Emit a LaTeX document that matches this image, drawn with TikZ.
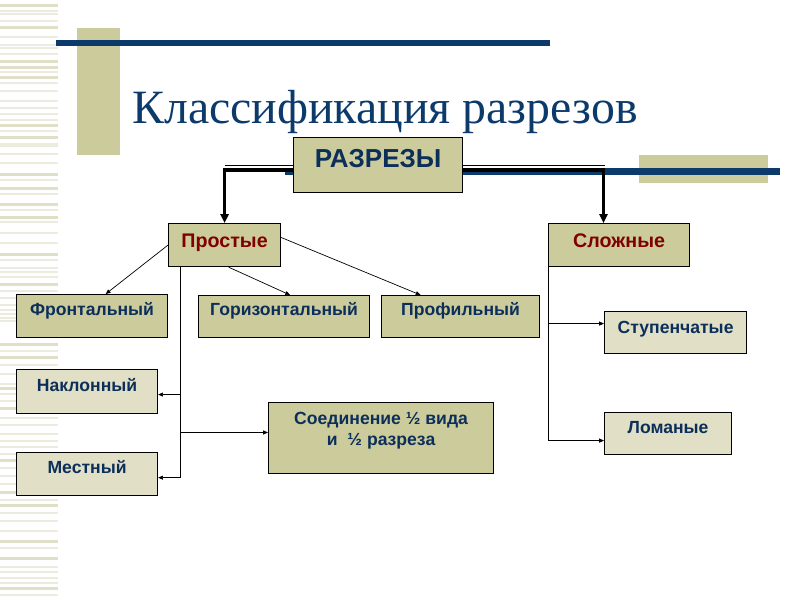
\documentclass[tikz,border=0pt]{standalone}
\usepackage{fontspec}
\setmainfont{Liberation Serif}
\setsansfont{Liberation Sans}
\usetikzlibrary{arrows.meta}
\definecolor{navy}{HTML}{0B3A6B}
\definecolor{khaki}{HTML}{CCCB9B}
\definecolor{palekhaki}{HTML}{E1DFC5}
\definecolor{stripe}{HTML}{E0E0C8}
\definecolor{stripelight}{HTML}{ECECDE}
\definecolor{darkred}{HTML}{800000}
\definecolor{boxtext}{HTML}{0C2F5A}

\begin{document}
\begin{tikzpicture}[x=0.025cm, y=-0.025cm,
  box/.style={draw=black, line width=0.8pt, fill=khaki, anchor=north west, inner sep=0pt,
    text=boxtext, font=\sffamily\bfseries\fontsize{12.5}{15}\selectfont},
  palebox/.style={box, fill=palekhaki},
  topbox/.style={box, text=darkred, font=\sffamily\bfseries\fontsize{14}{17}\selectfont},
  link/.style={line width=0.5pt, -{Triangle[length=0.12cm, width=0.1cm]}},
  bigarrow/.style={line width=2.5pt, -{Triangle[length=0.22cm, width=0.2cm]}}]
\useasboundingbox (0,0) rectangle (800,600);
\fill[white] (0,0) rectangle (800,600);
\foreach \y in {10,13,20,36,44,47,53,71,82,90,100,107,113,119,130,143,145,153,162,179,193,209,221,232,242,259,267,271,276,290,297,304,309,313,317,320,350,364,373,383,393,400,417,424,433,440,446,453,467,475,483,499,512,520,530,547,566,571,577,582,594}
  \fill[stripelight] (0,\y) rectangle (58,\y+1.5);
\foreach \y in {4,26,60,66,76,124,136,173,187,203,216,253,283,343,356,387,407,459,491,504,540,557,587}
  \fill[stripe] (0,\y) rectangle (58,\y+3);
\fill[khaki] (77,28) rectangle (120,155);
\fill[navy] (56,40) rectangle (550,46);
\fill[khaki] (639,155) rectangle (768,183);
\fill[navy] (285,168) rectangle (780,175);
\node[font=\fontsize{34}{40}\selectfont, text=navy, anchor=base] (title) at (385,123) {Классификация разрезов};

\node[box, minimum width=4.225cm, text height=0.75cm, text depth=0.625cm,
  font=\sffamily\bfseries\fontsize{18.5}{22}\selectfont] (razrezy) at (293,137) {РАЗРЕЗЫ};
\node[topbox, minimum width=2.8cm, text height=0.6cm, text depth=0.475cm] (prostye) at (168,223) {Простые};
\node[topbox, minimum width=3.525cm, text height=0.6cm, text depth=0.475cm] (slozhnye) at (548,223) {Сложные};
\node[box, minimum width=3.775cm, text height=0.525cm, text depth=0.55cm] (frontal) at (16,294) {Фронтальный};
\node[box, minimum width=4.275cm, text height=0.5cm, text depth=0.55cm] (gorizontal) at (198,295) {Горизонтальный};
\node[box, minimum width=3.95cm, text height=0.5cm, text depth=0.55cm] (profil) at (381,295) {Профильный};
\node[palebox, minimum width=3.525cm, text height=0.55cm, text depth=0.55cm] (naklon) at (16,369) {Наклонный};
\node[palebox, minimum width=3.525cm, text height=0.525cm, text depth=0.55cm] (mestny) at (16,452) {Местный};
\node[box, minimum width=5.625cm, align=center, text height=1.075cm, text depth=0.7cm] (soed) at (268,402) {Соединение ½ вида\\и \ ½ разреза};
\node[palebox, minimum width=3.55cm, text height=0.55cm, text depth=0.5cm] (stupen) at (604,311) {Ступенчатые};
\node[palebox, minimum width=3.175cm, text height=0.525cm, text depth=0.525cm] (lomanye) at (604,412) {Ломаные};

\draw[bigarrow] ([yshift=-0.125cm]razrezy.west) -| (prostye.north);
\draw[line width=0.6pt] (razrezy.west) -- (razrezy.west -| prostye.north);
\draw[bigarrow] ([yshift=-0.125cm]razrezy.east) -| ([xshift=-0.39cm]slozhnye.north);
\draw[line width=0.6pt] (razrezy.east) -- ([xshift=-0.36cm]slozhnye.north |- razrezy.east);

\draw[link] (prostye.west) -- ([xshift=0.34cm]frontal.north);
\draw[link] ([xshift=0.1cm]prostye.south) -- ([xshift=0.15cm]gorizontal.north);
\draw[link] ([yshift=0.19cm]prostye.east) -- ([xshift=-1cm]profil.north);
\draw[link] ([xshift=0.3cm]prostye.south west) |- ([yshift=-0.075cm]naklon.east);
\draw[link] ([xshift=0.3cm]prostye.south west) |- ([yshift=0.14cm]soed.west);
\draw[link] ([xshift=0.3cm]prostye.south west) |- ([yshift=-0.09cm]mestny.east);
\draw[link] (slozhnye.south west) |- ([yshift=0.225cm]stupen.west);
\draw[link] (slozhnye.south west) |- ([yshift=-0.175cm]lomanye.west);
\end{tikzpicture}
\end{document}
